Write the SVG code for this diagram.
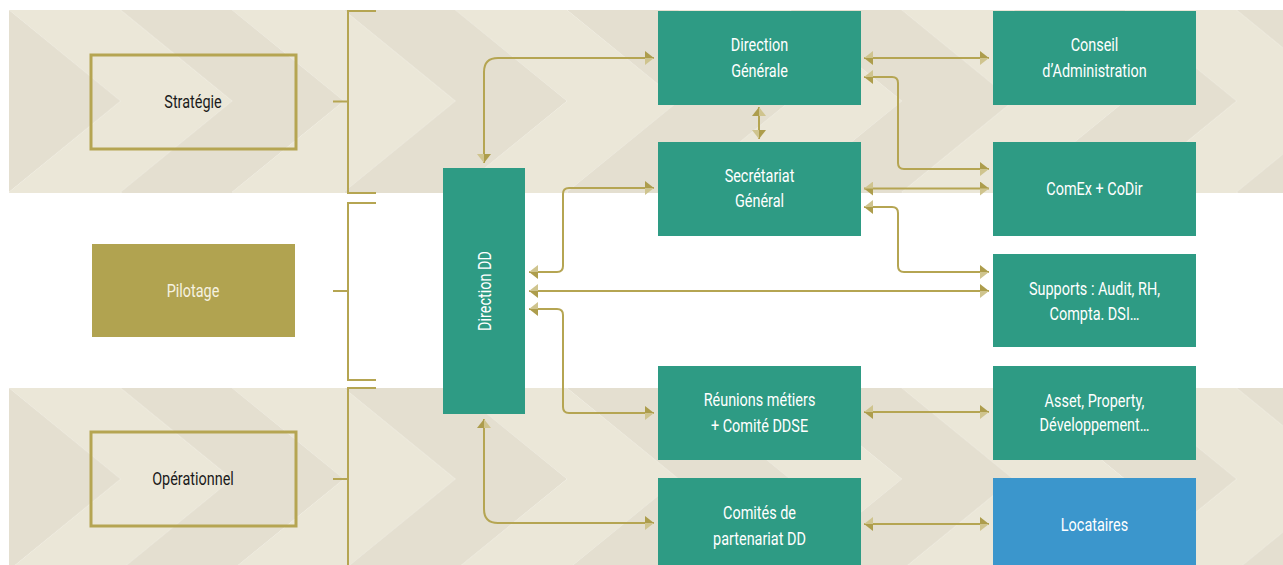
<svg xmlns="http://www.w3.org/2000/svg" width="1283" height="565" viewBox="0 0 1283 565">
<style>
.box{fill:#2e9b84}
.blue{fill:#3b96cc}
.gold{fill:#b1a350}
.frame{fill:none;stroke:#b5a552;stroke-width:3}
.lbl{font-family:Roboto,"Liberation Sans",sans-serif;font-weight:400;font-size:19px;fill:#ffffff;text-anchor:middle}
.dk{fill:#1a1a1a}
.pl{fill:#f6f2e0}
.conn{fill:none;stroke:#b5a552;stroke-width:2;marker-start:url(#ah);marker-end:url(#ah)}
.brk{fill:none;stroke:#b5a552;stroke-width:2}
.L{fill:#ebe7d8}
.D{fill:#e4dfd0}
</style>
<defs>
<marker id="ah" viewBox="0 -7 9 14" refX="9" refY="0" markerWidth="9" markerHeight="14" markerUnits="userSpaceOnUse" orient="auto-start-reverse">
<path d="M0,-7 L9,0 L0,0Z" fill="#ad9d4c"/>
<path d="M0,0 L9,0 L0,7Z" fill="#cfc48e"/>
</marker>
<g id="tile">
<path class="L" d="M0,0 L111.6,0 L111.6,91 Z"/>
<path class="D" d="M0,0 L111.6,91 L0,91 Z"/>
<path class="D" d="M0,91 L111.6,91 L0,182 Z"/>
<path class="L" d="M0,182 L111.6,91 L111.6,182 Z"/>
<path class="D" d="M111.6,0 L223.2,0 L223.2,91 Z"/>
<path class="L" d="M111.6,0 L223.2,91 L111.6,91 Z"/>
<path class="L" d="M111.6,91 L223.2,91 L111.6,182 Z"/>
<path class="D" d="M111.6,182 L223.2,91 L223.2,182 Z"/>
</g>
<pattern id="pTop" patternUnits="userSpaceOnUse" x="9" y="10" width="223.2" height="182"><use href="#tile"/></pattern>
<pattern id="pBot" patternUnits="userSpaceOnUse" x="9" y="388" width="223.2" height="182"><use href="#tile"/></pattern>
</defs>

<g id="background">
<rect x="0" y="0" width="1283" height="565" fill="#ffffff"/>
<rect x="9" y="10" width="1274" height="183" fill="url(#pTop)"/>
<rect x="9" y="388" width="1274" height="177" fill="url(#pBot)"/>
</g>

<g id="brackets">
<path class="brk" d="M376 11 H348 V193 H376 M333 101.5 H348"/>
<path class="brk" d="M376 203 H348 V380 H376 M333 291 H348"/>
<path class="brk" d="M376 388 H348 V565 M333 479 H348"/>
</g>

<g id="strategie">
<rect class="frame" x="91" y="55" width="205" height="94"/>
<g transform="translate(193 108) scale(0.76 1)"><text class="lbl dk">Stratégie</text></g>
</g>
<g id="pilotage">
<rect class="gold" x="92" y="244" width="203" height="93"/>
<g transform="translate(193 297) scale(0.76 1)"><text class="lbl pl">Pilotage</text></g>
</g>
<g id="operationnel">
<rect class="frame" x="91" y="432" width="205" height="94"/>
<g transform="translate(193 485) scale(0.76 1)"><text class="lbl dk">Opérationnel</text></g>
</g>

<g id="connectors">
<path class="conn" d="M484 163 V72 Q484 58 498 58 H654"/>
<path class="conn" d="M529 272 H557 Q563 272 563 266 V194 Q563 188 569 188 H654"/>
<path class="conn" d="M529 291 H989"/>
<path class="conn" d="M529 309 H557 Q563 309 563 315 V407 Q563 413 569 413 H654"/>
<path class="conn" d="M484 419 V509 Q484 523 498 523 H654"/>
<path class="conn" d="M759 107 V139"/>
<path class="conn" d="M864 58 H989"/>
<path class="conn" d="M864 77 H892 Q898 77 898 83 V163 Q898 169 904 169 H989"/>
<path class="conn" d="M864 188.5 H989"/>
<path class="conn" d="M864 207 H892 Q898 207 898 213 V266 Q898 272 904 272 H989"/>
<path class="conn" d="M864 412 H989"/>
<path class="conn" d="M864 524 H989"/>
</g>

<g id="direction-dd">
<rect class="box" x="443" y="168" width="82" height="246"/>
<g transform="translate(484 291) rotate(-90) scale(0.76 1)"><text class="lbl" y="7">Direction DD</text></g>
</g>
<g id="direction-generale">
<rect class="box" x="658" y="11" width="203" height="94"/>
<g transform="translate(759.5 50.5) scale(0.76 1)"><text class="lbl">Direction</text></g>
<g transform="translate(759.5 76.5) scale(0.76 1)"><text class="lbl">Générale</text></g>
</g>
<g id="secretariat-general">
<rect class="box" x="658" y="142" width="203" height="94"/>
<g transform="translate(759.5 181.5) scale(0.76 1)"><text class="lbl">Secrétariat</text></g>
<g transform="translate(759.5 206.5) scale(0.76 1)"><text class="lbl">Général</text></g>
</g>
<g id="reunions-metiers">
<rect class="box" x="658" y="366" width="203" height="94"/>
<g transform="translate(759.5 405.5) scale(0.76 1)"><text class="lbl">Réunions métiers</text></g>
<g transform="translate(759.5 431.5) scale(0.76 1)"><text class="lbl">+ Comité DDSE</text></g>
</g>
<g id="comites-partenariat">
<rect class="box" x="658" y="478" width="203" height="87"/>
<g transform="translate(759.5 518.5) scale(0.76 1)"><text class="lbl">Comités de</text></g>
<g transform="translate(759.5 544.5) scale(0.76 1)"><text class="lbl">partenariat DD</text></g>
</g>
<g id="conseil-administration">
<rect class="box" x="993" y="11" width="203" height="94"/>
<g transform="translate(1094.5 50.5) scale(0.76 1)"><text class="lbl">Conseil</text></g>
<g transform="translate(1094.5 76.5) scale(0.76 1)"><text class="lbl">d’Administration</text></g>
</g>
<g id="comex-codir">
<rect class="box" x="993" y="142" width="203" height="94"/>
<g transform="translate(1094.5 194.5) scale(0.76 1)"><text class="lbl">ComEx + CoDir</text></g>
</g>
<g id="supports">
<rect class="box" x="993" y="254" width="203" height="93"/>
<g transform="translate(1094.5 294.5) scale(0.76 1)"><text class="lbl">Supports : Audit, RH,</text></g>
<g transform="translate(1094.5 319.5) scale(0.76 1)"><text class="lbl">Compta. DSI…</text></g>
</g>
<g id="asset-property">
<rect class="box" x="993" y="366" width="203" height="94"/>
<g transform="translate(1094.5 406.5) scale(0.76 1)"><text class="lbl">Asset, Property,</text></g>
<g transform="translate(1094.5 430.5) scale(0.76 1)"><text class="lbl">Développement…</text></g>
</g>
<g id="locataires">
<rect class="blue" x="993" y="478" width="203" height="87"/>
<g transform="translate(1094.5 530.5) scale(0.76 1)"><text class="lbl">Locataires</text></g>
</g>
</svg>
